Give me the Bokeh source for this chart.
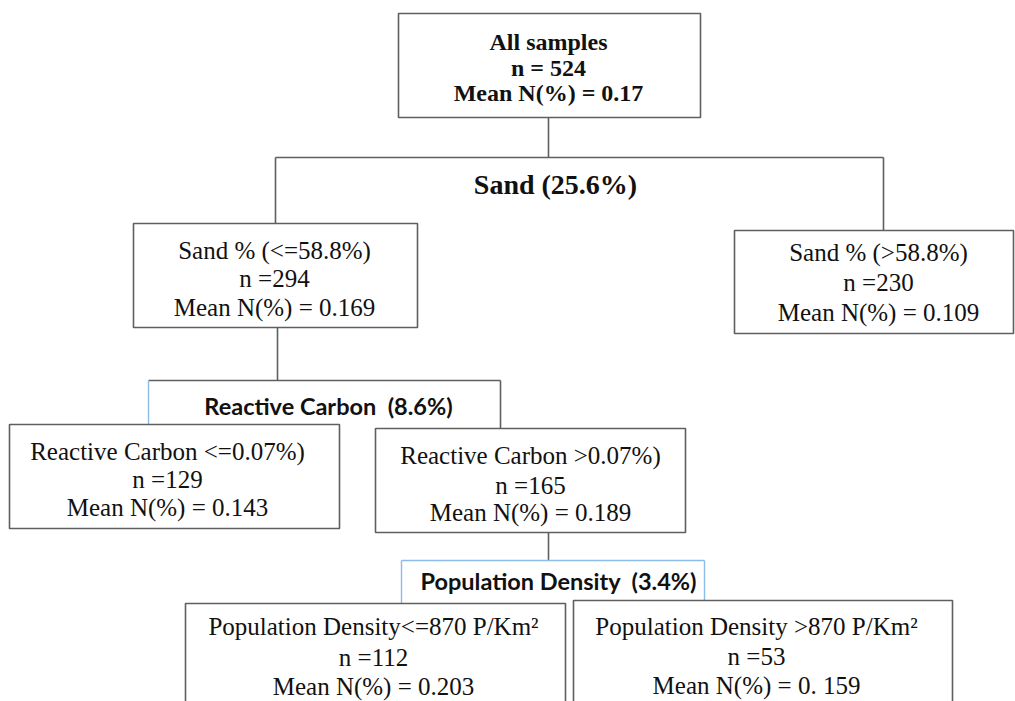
from bokeh.plotting import figure
from bokeh.models import Range1d, ColumnDataSource
from bokeh.core.properties import value
from bokeh.embed import file_html
from bokeh.resources import INLINE

# ---- data ----
node_titles = ["All samples", "Sand % (<=58.8%)", "Sand % (>58.8%)",
               "Reactive Carbon <=0.07%)", "Reactive Carbon >0.07%)",
               "Population Density<=870 P/Km\u00b2", "Population Density >870 P/Km\u00b2"]
node_n = [524, 294, 230, 129, 165, 112, 53]
node_mean = ["0.17", "0.169", "0.109", "0.143", "0.189", "0.203", "0. 159"]
split_names = ["Sand", "Reactive Carbon", "Population Density"]
split_importance = ["25.6%", "8.6%", "3.4%"]

# ---- layout (reference pixel space, y downward) ----
box_left = [398, 133, 734, 9, 375, 185, 573]
box_right = [700, 417, 1013, 339, 685, 565, 952]
box_top = [13, 223, 230, 424, 428, 603, 600]
box_bottom = [117, 327, 333, 528, 532, 720, 720]
text_x = [548, 274, 878, 167, 530, 373, 756]
baselines = [(41, 67, 92), (250, 278, 307), (252, 282, 312), (451, 479, 507),
             (455, 485, 512), (626, 657, 686), (626, 656, 685)]

split_x = [555, 328, 558]
split_y = [184, 405, 580]

gray_segs = [((548, 117), (548, 157)), ((275, 157), (883, 157)), ((275, 157), (275, 223)),
             ((883, 157), (883, 230)), ((277, 327), (277, 380)), ((148, 380), (500, 380)),
             ((500, 380), (500, 428)), ((548, 532), (548, 560))]
blue_segs = [((148, 380), (148, 424)), ((401, 560), (704, 560)), ((401, 560), (401, 603)),
             ((704, 560), (704, 600))]

W, H = 1015, 701
p = figure(width=W, height=H, output_backend="svg", toolbar_location=None,
           x_range=Range1d(0, W), y_range=Range1d(H, 0),
           x_axis_location=None, y_axis_location=None, min_border=0)
p.grid.visible = False
p.outline_line_color = None
p.background_fill_color = "white"

GRAY = "#5f5f5f"
BLUE = "#8dbbea"

p.segment(x0=[s[0][0] for s in gray_segs], y0=[s[0][1] for s in gray_segs],
          x1=[s[1][0] for s in gray_segs], y1=[s[1][1] for s in gray_segs],
          line_color=GRAY, line_width=1.6)
p.segment(x0=[s[0][0] for s in blue_segs], y0=[s[0][1] for s in blue_segs],
          x1=[s[1][0] for s in blue_segs], y1=[s[1][1] for s in blue_segs],
          line_color=BLUE, line_width=1.4)

p.quad(left=box_left, right=box_right, top=box_top, bottom=box_bottom,
       fill_color="white", line_color=GRAY, line_width=1.6)

# node texts
bold = dict(x=[], y=[], t=[])
norm = dict(x=[], y=[], t=[])
for i in range(len(node_titles)):
    n_txt = f"n = {node_n[i]}" if i == 0 else f"n ={node_n[i]}"
    lines = [node_titles[i], n_txt, f"Mean N(%) = {node_mean[i]}"]
    target = bold if i == 0 else norm
    for j, t in enumerate(lines):
        target["x"].append(text_x[i])
        target["y"].append(baselines[i][j])
        target["t"].append(t)

p.text(x="x", y="y", text="t", source=ColumnDataSource(bold), text_font=value("Liberation Serif"),
       text_font_style="bold", text_font_size="24px", text_align="center",
       text_baseline="alphabetic", text_color="#111111")
p.text(x="x", y="y", text="t", source=ColumnDataSource(norm), text_font=value("Liberation Serif"),
       text_font_size="25px", text_align="center",
       text_baseline="alphabetic", text_color="#111111")

# split labels
p.text(x=[split_x[0]], y=[split_y[0]], text=[f"{split_names[0]} ({split_importance[0]})"],
       text_font=value("Liberation Serif"), text_font_style="bold", text_font_size="28px",
       text_align="center", text_baseline="alphabetic", text_color="#111111")
p.text(x=split_x[1:], y=split_y[1:],
       text=[f"{n}\u00a0\u00a0({v})" for n, v in zip(split_names[1:], split_importance[1:])],
       text_font=value("Lato"), text_font_style="bold", text_font_size="23.5px",
       text_align="center", text_baseline="alphabetic", text_color="#111111")

open("out.html", "w").write(file_html(p, INLINE))
